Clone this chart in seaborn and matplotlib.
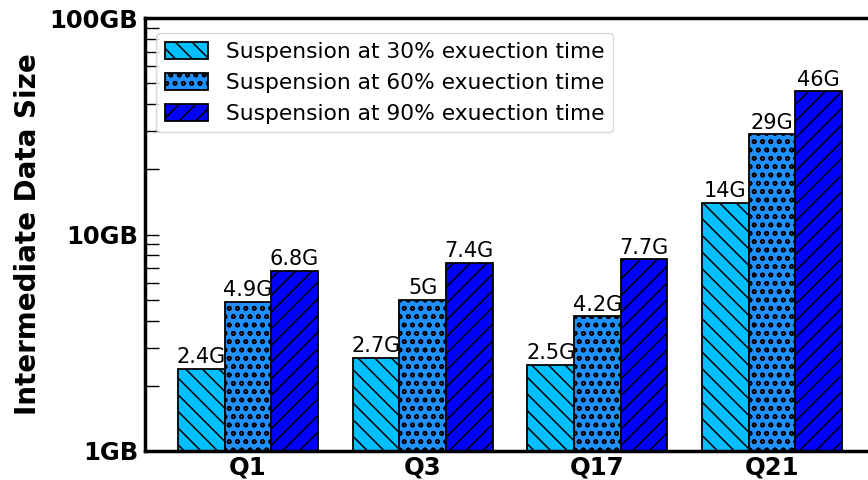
import matplotlib
matplotlib.use("Agg")
import matplotlib.pyplot as plt
import seaborn as sns
import pandas as pd

queries = ["Q1", "Q3", "Q17", "Q21"]
series = [
    "Suspension at 30% exuection time",
    "Suspension at 60% exuection time",
    "Suspension at 90% exuection time",
]
size_30 = [2.4, 2.7, 2.5, 14]
size_60 = [4.9, 5, 4.2, 29]
size_90 = [6.8, 7.4, 7.7, 46]
labels_30 = ["2.4G", "2.7G", "2.5G", "14G"]
labels_60 = ["4.9G", "5G", "4.2G", "29G"]
labels_90 = ["6.8G", "7.4G", "7.7G", "46G"]
ytick_values = [1, 10, 100]
ytick_labels = ["1GB", "10GB", "100GB"]

colors = ["#00BFFF", "#1E90FF", "#0000FF"]
hatches = ["\\\\", "oo", "//"]

rows = []
for s, vals in zip(series, [size_30, size_60, size_90]):
    for q, v in zip(queries, vals):
        rows.append({"query": q, "series": s, "size": v})
df = pd.DataFrame(rows)

sns.set_style("ticks")
plt.rcParams["font.family"] = ["DejaVu Sans"]
plt.rcParams["hatch.linewidth"] = 1.1
plt.rcParams["text.color"] = "black"
plt.rcParams["axes.labelcolor"] = "black"
plt.rcParams["xtick.color"] = "black"
plt.rcParams["ytick.color"] = "black"

fig = plt.figure(figsize=(8.68, 4.8), dpi=100)
ax = fig.add_axes([145 / 868, 1 - 451 / 480, 730 / 868, 433 / 480])

sns.barplot(data=df, x="query", y="size", hue="series", order=queries,
            hue_order=series, palette=colors, saturation=1, edgecolor="black",
            linewidth=1.3, ax=ax, width=0.8)
ax.set_yscale("log")

for container, hatch, labs in zip(ax.containers, hatches, [labels_30, labels_60, labels_90]):
    for bar in container:
        bar.set_hatch(hatch)
    ax.bar_label(container, labels=labs, fontsize=15, padding=1, color="black")

ax.set_ylim(1, 100)
ax.set_xlim(-0.59, 3.59)
ax.set_yticks(ytick_values)
ax.set_yticklabels(ytick_labels, fontsize=17.5, fontweight="bold")
ax.set_xticks(range(len(queries)))
ax.set_xticklabels(queries, fontsize=17.5, fontweight="bold")
ax.set_xlabel("")
ax.set_ylabel("Intermediate Data Size", fontsize=20, fontweight="bold", labelpad=5)

ax.tick_params(axis="y", which="major", direction="in", length=10, width=1.0, pad=5)
ax.tick_params(axis="y", which="minor", direction="in", length=10, width=1.0)
ax.tick_params(axis="x", which="both", length=0, pad=3)

for side in ["left", "top", "right", "bottom"]:
    ax.spines[side].set_visible(True)
    ax.spines[side].set_linewidth(2.5)
    ax.spines[side].set_color("black")

leg = ax.legend(loc="upper left", fontsize=15.7, frameon=True,
                bbox_to_anchor=(0.0, 0.99), handlelength=2.0,
                handleheight=0.8, borderpad=0.4, labelspacing=0.5)
for h, hatch in zip(leg.legend_handles, hatches):
    h.set_hatch(hatch)
    h.set_edgecolor("black")

fig.savefig("out.png", dpi=100)
